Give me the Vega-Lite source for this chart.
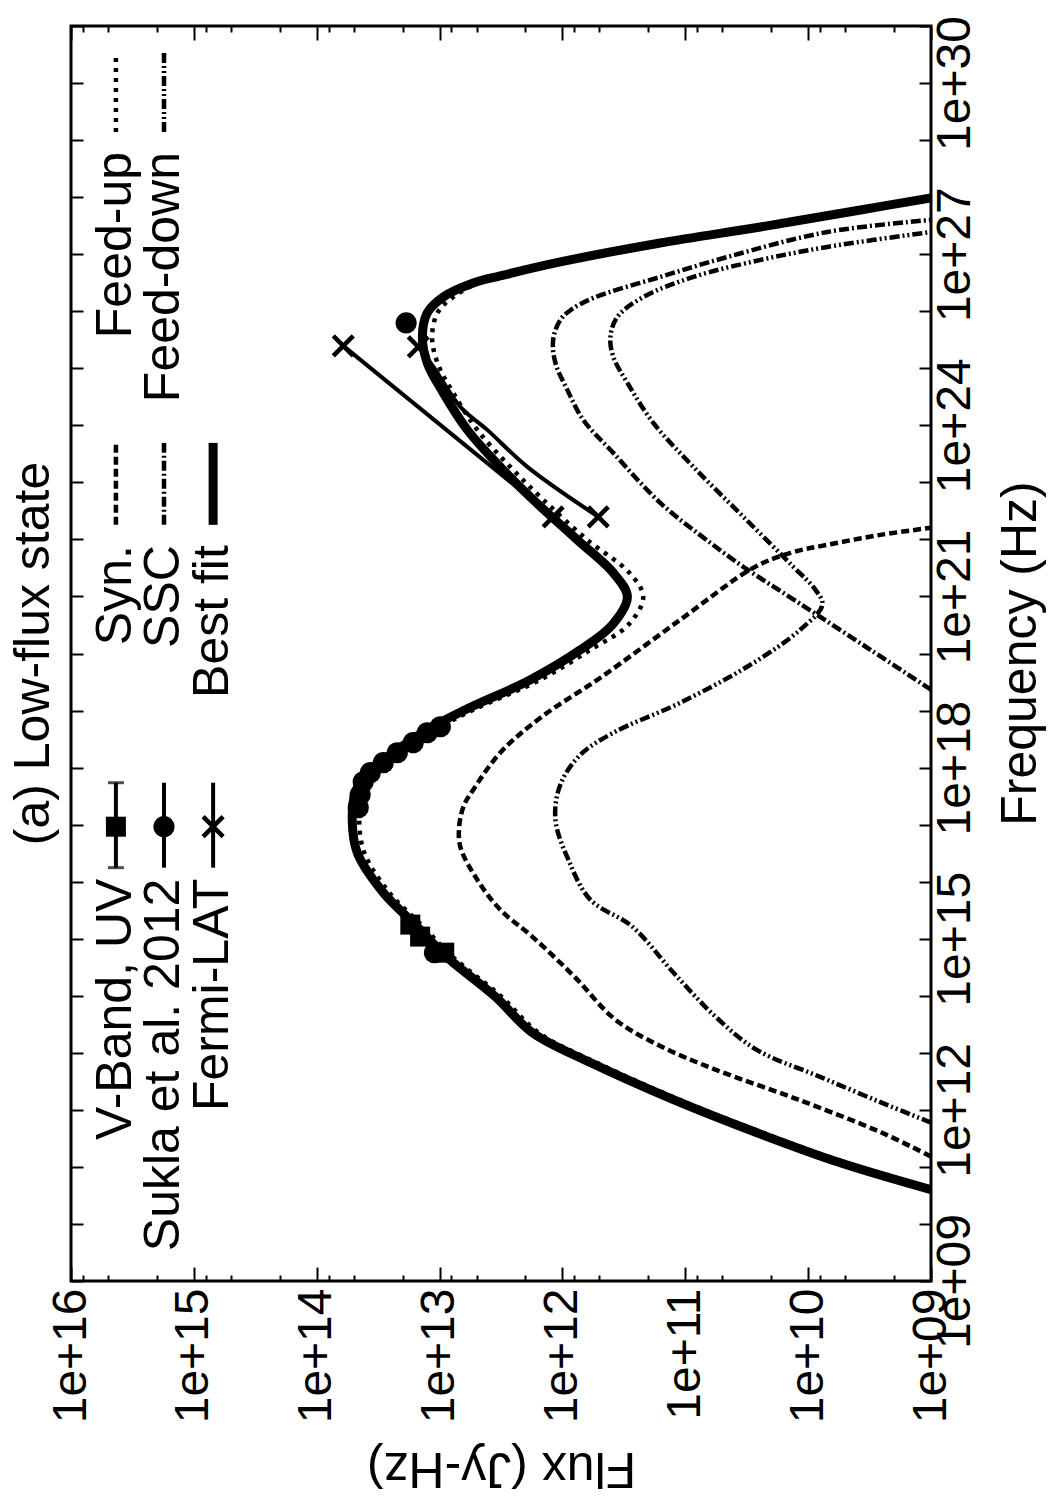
{
  "$schema": "https://vega.github.io/schema/vega-lite/v6.json",
  "width": 860,
  "height": 1255,
  "autosize": {"type": "none"},
  "padding": {"left": 71, "top": 26, "right": 117, "bottom": 219},
  "background": "white",
  "config": {
    "view": {"stroke": "black", "strokeWidth": 3},
    "font": "Liberation Sans"
  },
  "title": {
    "text": "(a) Low-flux state",
    "orient": "left",
    "anchor": "middle",
    "fontSize": 50,
    "font": "Liberation Sans",
    "fontWeight": "normal",
    "color": "black",
    "offset": -12
  },
  "datasets": {
    "curves": [
      {"s":"Syn.","p":"m","nu":1.52e11,"f":1.0e9},{"s":"Syn.","p":"m","nu":4.00e11,"f":2.53e9},{"s":"Syn.","p":"m","nu":1.51e12,"f":1.20e10},{"s":"Syn.","p":"m","nu":5.08e12,"f":5.69e10},{"s":"Syn.","p":"m","nu":1.29e13,"f":1.57e11},{"s":"Syn.","p":"m","nu":3.82e13,"f":3.71e11},{"s":"Syn.","p":"m","nu":2.17e14,"f":8.00e11},{"s":"Syn.","p":"m","nu":1.09e15,"f":1.76e12},{"s":"Syn.","p":"m","nu":3.24e15,"f":3.21e12},{"s":"Syn.","p":"m","nu":1.08e16,"f":4.93e12},{"s":"Syn.","p":"m","nu":4.10e16,"f":6.78e12},{"s":"Syn.","p":"m","nu":9.98e16,"f":6.90e12},{"s":"Syn.","p":"m","nu":2.23e17,"f":6.30e12},{"s":"Syn.","p":"m","nu":4.09e17,"f":5.32e12},{"s":"Syn.","p":"m","nu":1.82e18,"f":3.21e12},{"s":"Syn.","p":"m","nu":7.48e18,"f":1.51e12},{"s":"Syn.","p":"m","nu":3.76e19,"f":4.91e11},{"s":"Syn.","p":"m","nu":3.90e20,"f":1.10e11},{"s":"Syn.","p":"m","nu":3.18e21,"f":2.79e10},{"s":"Syn.","p":"m","nu":5.82e21,"f":1.39e10},{"s":"Syn.","p":"m","nu":8.04e21,"f":6.97e9},{"s":"Syn.","p":"m","nu":1.20e22,"f":2.58e9},{"s":"Syn.","p":"m","nu":1.60e22,"f":1.0e9},
      {"s":"Syn.","p":"k","nu":4.92e23,"f":4.31e15},{"s":"Syn.","p":"k","nu":1.80e22,"f":4.31e15},

      {"s":"SSC","p":"m","nu":2.32e19,"f":1.0e9},{"s":"SSC","p":"m","nu":1.16e20,"f":3.11e9},{"s":"SSC","p":"m","nu":7.43e20,"f":1.16e10},{"s":"SSC","p":"m","nu":3.31e21,"f":3.37e10},{"s":"SSC","p":"m","nu":8.71e21,"f":6.25e10},{"s":"SSC","p":"m","nu":4.38e22,"f":1.60e11},{"s":"SSC","p":"m","nu":3.43e23,"f":3.93e11},{"s":"SSC","p":"m","nu":1.24e24,"f":6.76e11},{"s":"SSC","p":"m","nu":4.18e24,"f":9.12e11},{"s":"SSC","p":"m","nu":1.24e25,"f":1.14e12},{"s":"SSC","p":"m","nu":3.14e25,"f":1.19e12},{"s":"SSC","p":"m","nu":7.05e25,"f":1.04e12},{"s":"SSC","p":"m","nu":1.05e26,"f":8.55e11},{"s":"SSC","p":"m","nu":1.71e26,"f":5.60e11},{"s":"SSC","p":"m","nu":3.99e26,"f":1.60e11},{"s":"SSC","p":"m","nu":8.93e26,"f":4.54e10},{"s":"SSC","p":"m","nu":2.45e27,"f":6.97e9},{"s":"SSC","p":"m","nu":3.98e27,"f":1.0e9},
      {"s":"SSC","p":"k","nu":4.92e23,"f":1.75e15},{"s":"SSC","p":"k","nu":1.80e22,"f":1.75e15},

      {"s":"Feed-down","p":"m","nu":5.98e11,"f":1.0e9},{"s":"Feed-down","p":"m","nu":1.34e12,"f":2.53e9},{"s":"Feed-down","p":"m","nu":3.83e12,"f":8.09e9},{"s":"Feed-down","p":"m","nu":1.14e13,"f":2.64e10},{"s":"Feed-down","p":"m","nu":4.32e13,"f":5.69e10},{"s":"Feed-down","p":"m","nu":2.55e14,"f":1.25e11},{"s":"Feed-down","p":"m","nu":1.63e15,"f":2.70e11},{"s":"Feed-down","p":"m","nu":4.84e15,"f":5.93e11},{"s":"Feed-down","p":"m","nu":2.43e16,"f":8.95e11},{"s":"Feed-down","p":"m","nu":1.22e17,"f":1.14e12},{"s":"Feed-down","p":"m","nu":5.01e17,"f":1.04e12},{"s":"Feed-down","p":"m","nu":1.68e18,"f":7.14e11},{"s":"Feed-down","p":"m","nu":4.08e18,"f":3.85e11},{"s":"Feed-down","p":"m","nu":1.37e19,"f":1.10e11},{"s":"Feed-down","p":"m","nu":6.35e19,"f":2.95e10},{"s":"Feed-down","p":"m","nu":2.61e20,"f":1.16e10},{"s":"Feed-down","p":"m","nu":7.14e20,"f":7.66e9},{"s":"Feed-down","p":"m","nu":1.31e21,"f":8.73e9},{"s":"Feed-down","p":"m","nu":3.31e21,"f":1.32e10},{"s":"Feed-down","p":"m","nu":2.49e22,"f":3.37e10},{"s":"Feed-down","p":"m","nu":1.87e23,"f":8.59e10},{"s":"Feed-down","p":"m","nu":1.10e24,"f":1.82e11},{"s":"Feed-down","p":"m","nu":5.55e24,"f":2.96e11},{"s":"Feed-down","p":"m","nu":1.58e25,"f":3.85e11},{"s":"Feed-down","p":"m","nu":3.55e25,"f":4.07e11},{"s":"Feed-down","p":"m","nu":7.94e25,"f":3.57e11},{"s":"Feed-down","p":"m","nu":1.78e26,"f":2.19e11},{"s":"Feed-down","p":"m","nu":3.99e26,"f":8.59e10},{"s":"Feed-down","p":"m","nu":7.93e26,"f":2.44e10},{"s":"Feed-down","p":"m","nu":1.34e27,"f":6.97e9},{"s":"Feed-down","p":"m","nu":2.45e27,"f":1.0e9},
      {"s":"Feed-down","p":"k","nu":3.36e30,"f":1.75e15},{"s":"Feed-down","p":"k","nu":1.39e29,"f":1.75e15},

      {"s":"Feed-up","p":"m","nu":3.98e10,"f":8.93e8},{"s":"Feed-up","p":"m","nu":1.19e11,"f":4.97e9},{"s":"Feed-up","p":"m","nu":4.00e11,"f":2.36e10},{"s":"Feed-up","p":"m","nu":1.51e12,"f":1.12e11},{"s":"Feed-up","p":"m","nu":6.75e12,"f":5.30e11},{"s":"Feed-up","p":"m","nu":2.26e13,"f":1.57e12},{"s":"Feed-up","p":"m","nu":9.66e13,"f":3.14e12},{"s":"Feed-up","p":"m","nu":4.85e14,"f":7.87e12},{"s":"Feed-up","p":"m","nu":1.63e15,"f":1.36e13},{"s":"Feed-up","p":"m","nu":6.41e15,"f":2.56e13},{"s":"Feed-up","p":"m","nu":3.22e16,"f":4.10e13},{"s":"Feed-up","p":"m","nu":1.22e17,"f":4.51e13},{"s":"Feed-up","p":"m","nu":3.63e17,"f":4.26e13},{"s":"Feed-up","p":"m","nu":8.13e17,"f":3.40e13},{"s":"Feed-up","p":"m","nu":1.82e18,"f":2.05e13},{"s":"Feed-up","p":"m","nu":4.61e18,"f":1.08e13},{"s":"Feed-up","p":"m","nu":1.03e19,"f":5.32e12},{"s":"Feed-up","p":"m","nu":3.47e19,"f":1.51e12},{"s":"Feed-up","p":"m","nu":1.16e20,"f":5.93e11},{"s":"Feed-up","p":"m","nu":3.18e20,"f":2.91e11},{"s":"Feed-up","p":"m","nu":9.86e20,"f":2.20e11},{"s":"Feed-up","p":"m","nu":2.59e21,"f":2.85e11},{"s":"Feed-up","p":"m","nu":9.84e21,"f":6.28e11},{"s":"Feed-up","p":"m","nu":4.94e22,"f":1.43e12},{"s":"Feed-up","p":"m","nu":1.87e23,"f":2.66e12},{"s":"Feed-up","p":"m","nu":8.32e23,"f":4.93e12},{"s":"Feed-up","p":"m","nu":3.71e24,"f":7.74e12},{"s":"Feed-up","p":"m","nu":1.24e25,"f":1.04e13},{"s":"Feed-up","p":"m","nu":3.55e25,"f":1.15e13},{"s":"Feed-up","p":"m","nu":9.33e25,"f":1.04e13},{"s":"Feed-up","p":"m","nu":1.78e26,"f":7.74e12},{"s":"Feed-up","p":"m","nu":3.13e26,"f":4.84e12},{"s":"Feed-up","p":"m","nu":4.16e26,"f":2.92e12},{"s":"Feed-up","p":"m","nu":7.31e26,"f":9.46e11},{"s":"Feed-up","p":"m","nu":1.57e27,"f":1.51e11},{"s":"Feed-up","p":"m","nu":3.00e27,"f":2.31e10},{"s":"Feed-up","p":"m","nu":5.96e27,"f":3.55e9},{"s":"Feed-up","p":"m","nu":9.68e27,"f":9.46e8},
      {"s":"Feed-up","p":"k","nu":3.36e30,"f":4.31e15},{"s":"Feed-up","p":"k","nu":1.39e29,"f":4.31e15},

      {"s":"Best fit","p":"m","nu":3.98e10,"f":1.0e9},{"s":"Best fit","p":"m","nu":1.19e11,"f":5.56e9},{"s":"Best fit","p":"m","nu":4.00e11,"f":2.64e10},{"s":"Best fit","p":"m","nu":1.51e12,"f":1.25e11},{"s":"Best fit","p":"m","nu":6.75e12,"f":5.93e11},{"s":"Best fit","p":"m","nu":2.26e13,"f":1.76e12},{"s":"Best fit","p":"m","nu":9.66e13,"f":3.52e12},{"s":"Best fit","p":"m","nu":4.85e14,"f":8.81e12},{"s":"Best fit","p":"m","nu":1.63e15,"f":1.52e13},{"s":"Best fit","p":"m","nu":6.41e15,"f":2.87e13},{"s":"Best fit","p":"m","nu":3.22e16,"f":4.68e13},{"s":"Best fit","p":"m","nu":1.22e17,"f":5.14e13},{"s":"Best fit","p":"m","nu":3.63e17,"f":4.85e13},{"s":"Best fit","p":"m","nu":8.13e17,"f":3.88e13},{"s":"Best fit","p":"m","nu":1.82e18,"f":2.38e13},{"s":"Best fit","p":"m","nu":4.61e18,"f":1.26e13},{"s":"Best fit","p":"m","nu":1.03e19,"f":6.18e12},{"s":"Best fit","p":"m","nu":3.47e19,"f":1.82e12},{"s":"Best fit","p":"m","nu":1.16e20,"f":7.14e11},{"s":"Best fit","p":"m","nu":3.18e20,"f":3.93e11},{"s":"Best fit","p":"m","nu":9.86e20,"f":2.96e11},{"s":"Best fit","p":"m","nu":2.59e21,"f":3.85e11},{"s":"Best fit","p":"m","nu":9.84e21,"f":7.57e11},{"s":"Best fit","p":"m","nu":4.94e22,"f":1.73e12},{"s":"Best fit","p":"m","nu":1.87e23,"f":3.21e12},{"s":"Best fit","p":"m","nu":8.32e23,"f":5.94e12},{"s":"Best fit","p":"m","nu":3.71e24,"f":9.33e12},{"s":"Best fit","p":"m","nu":1.24e25,"f":1.26e13},{"s":"Best fit","p":"m","nu":3.55e25,"f":1.38e13},{"s":"Best fit","p":"m","nu":9.33e25,"f":1.26e13},{"s":"Best fit","p":"m","nu":1.78e26,"f":9.33e12},{"s":"Best fit","p":"m","nu":3.13e26,"f":5.32e12},{"s":"Best fit","p":"m","nu":4.16e26,"f":3.21e12},{"s":"Best fit","p":"m","nu":7.31e26,"f":1.04e12},{"s":"Best fit","p":"m","nu":1.57e27,"f":1.60e11},{"s":"Best fit","p":"m","nu":3.00e27,"f":2.44e10},{"s":"Best fit","p":"m","nu":5.96e27,"f":3.75e9},{"s":"Best fit","p":"m","nu":9.68e27,"f":1.0e9},
      {"s":"Best fit","p":"k","nu":4.92e23,"f":6.97e14},{"s":"Best fit","p":"k","nu":1.80e22,"f":6.97e14},

      {"s":"Fermi-LAT","p":"f1","nu":2.47e25,"f":6.08e13},{"s":"Fermi-LAT","p":"f1","nu":2.49e22,"f":1.19e12},
      {"s":"Fermi-LAT","p":"f2","nu":2.37e25,"f":1.49e13},{"s":"Fermi-LAT","p":"f2","nu":1.06e25,"f":1.12e13},{"s":"Fermi-LAT","p":"f2","nu":2.10e24,"f":6.78e12},{"s":"Fermi-LAT","p":"f2","nu":8.32e23,"f":4.09e12},{"s":"Fermi-LAT","p":"f2","nu":1.87e23,"f":1.93e12},{"s":"Fermi-LAT","p":"f2","nu":2.49e22,"f":5.11e11},
      {"s":"Fermi-LAT","p":"fk","nu":5.43e17,"f":6.97e14},{"s":"Fermi-LAT","p":"fk","nu":1.76e16,"f":6.97e14},
      {"s":"Sukla et al. 2012","p":"sk","nu":5.43e17,"f":1.75e15},{"s":"Sukla et al. 2012","p":"sk","nu":1.76e16,"f":1.75e15},
      {"s":"V-Band, UV","p":"vk","nu":5.43e17,"f":4.31e15},{"s":"V-Band, UV","p":"vk","nu":1.76e16,"f":4.31e15}
    ],
    "caps": [
      {"s":"V-Band, UV","nu":5.43e17,"f":4.31e15},
      {"s":"V-Band, UV","nu":1.76e16,"f":4.31e15}
    ],
    "points": [
      {"s":"V-Band, UV","nu":1.77e15,"f":1.73e13},{"s":"V-Band, UV","nu":1.09e15,"f":1.44e13},{"s":"V-Band, UV","nu":5.70e14,"f":9.16e12},{"s":"V-Band, UV","nu":9.20e16,"f":4.31e15},
      {"s":"Sukla et al. 2012","nu":5.70e14,"f":1.10e13},{"s":"Sukla et al. 2012","nu":5.20e18,"f":9.86e12},{"s":"Sukla et al. 2012","nu":4.08e18,"f":1.26e13},{"s":"Sukla et al. 2012","nu":2.73e18,"f":1.64e13},{"s":"Sukla et al. 2012","nu":1.82e18,"f":2.21e13},{"s":"Sukla et al. 2012","nu":1.22e18,"f":2.87e13},{"s":"Sukla et al. 2012","nu":8.13e17,"f":3.66e13},{"s":"Sukla et al. 2012","nu":5.65e17,"f":4.18e13},{"s":"Sukla et al. 2012","nu":3.35e17,"f":4.43e13},{"s":"Sukla et al. 2012","nu":1.98e17,"f":4.59e13},{"s":"Sukla et al. 2012","nu":6.24e25,"f":1.87e13},{"s":"Sukla et al. 2012","nu":9.20e16,"f":1.75e15},
      {"s":"Fermi-LAT","nu":2.47e25,"f":6.08e13},{"s":"Fermi-LAT","nu":2.37e25,"f":1.49e13},{"s":"Fermi-LAT","nu":2.49e22,"f":1.19e12},{"s":"Fermi-LAT","nu":2.49e22,"f":5.11e11},{"s":"Fermi-LAT","nu":9.20e16,"f":6.97e14}
    ],
    "labels": [
      {"t":"V-Band, UV","nu":1.13e16,"f":4.31e15},
      {"t":"Sukla et al. 2012","nu":1.13e16,"f":1.75e15},
      {"t":"Fermi-LAT","nu":1.13e16,"f":6.97e14},
      {"t":"Syn.","nu":7.94e21,"f":4.31e15},
      {"t":"SSC","nu":7.94e21,"f":1.75e15},
      {"t":"Best fit","nu":7.94e21,"f":6.97e14},
      {"t":"Feed-up","nu":6.19e28,"f":4.31e15},
      {"t":"Feed-down","nu":6.19e28,"f":1.75e15}
    ]
  },
  "encoding": {
    "x": {"field": "f", "type": "quantitative", "scale": {"type": "log", "domain": [1e9, 1e16], "reverse": true, "nice": false}, "axis": null},
    "y": {"field": "nu", "type": "quantitative", "scale": {"type": "log", "domain": [1e9, 1e31], "nice": false}, "axis": null}
  },
  "layer": [
    {
      "data": {"name": "curves"},
      "transform": [{"filter": "datum.s == 'Syn.'"}],
      "mark": {"type": "line", "interpolate": "catmull-rom", "color": "black", "strokeWidth": 4.5, "strokeDash": [8, 4], "strokeCap": "butt", "clip": true},
      "encoding": {
        "x": {
          "field": "f", "type": "quantitative",
          "scale": {"type": "log", "domain": [1e9, 1e16], "reverse": true, "nice": false},
          "axis": {
            "orient": "bottom",
            "values": [1e9,2e9,5e9,8e9,1e10,2e10,5e10,8e10,1e11,2e11,5e11,8e11,1e12,2e12,5e12,8e12,1e13,2e13,5e13,8e13,1e14,2e14,5e14,8e14,1e15,2e15,5e15,8e15,1e16],
            "labelExpr": "abs(log(datum.value)/LN10 - round(log(datum.value)/LN10)) < 0.001 ? ('1e+' + (round(log(datum.value)/LN10) < 10 ? '0' : '') + round(log(datum.value)/LN10)) : ''",
            "labelAngle": 270, "labelAlign": "right", "labelBaseline": "middle",
            "labelFont": "Liberation Sans", "labelFontSize": 48, "labelColor": "black",
            "labelPadding": 21, "labelOverlap": false, "labelFlush": false, "labelBound": false,
            "tickSize": {"condition": {"test": "abs(log(datum.value)/LN10 - round(log(datum.value)/LN10)) < 0.001", "value": -14}, "value": -6},
            "tickWidth": 2, "tickColor": "black",
            "domain": false, "grid": false,
            "title": "Flux (Jy-Hz)", "titleAngle": 180, "titleX": 430, "titleY": 171,
            "titleAlign": "center", "titleBaseline": "alphabetic",
            "titleFont": "Liberation Sans", "titleFontSize": 50, "titleFontWeight": "normal", "titleColor": "black"
          }
        },
        "y": {
          "field": "nu", "type": "quantitative",
          "scale": {"type": "log", "domain": [1e9, 1e31], "nice": false},
          "axis": {
            "orient": "right",
            "values": [1e9,1e10,1e11,1e12,1e13,1e14,1e15,1e16,1e17,1e18,1e19,1e20,1e21,1e22,1e23,1e24,1e25,1e26,1e27,1e28,1e29,1e30,1e31],
            "labelExpr": "round(log(datum.value)/LN10) % 3 == 0 ? ('1e+' + (round(log(datum.value)/LN10) < 10 ? '0' : '') + round(log(datum.value)/LN10)) : ''",
            "labelAngle": 270, "labelAlign": "center", "labelBaseline": "top",
            "labelFont": "Liberation Sans", "labelFontSize": 48, "labelColor": "black",
            "labelPadding": 12, "labelOverlap": false, "labelFlush": false, "labelBound": false,
            "tickSize": -12, "tickWidth": 2, "tickColor": "black",
            "domain": false, "grid": false,
            "title": "Frequency (Hz)", "titleAngle": 270, "titleX": 104, "titleY": 627,
            "titleAlign": "center", "titleBaseline": "alphabetic",
            "titleFont": "Liberation Sans", "titleFontSize": 50, "titleFontWeight": "normal", "titleColor": "black"
          }
        },
        "detail": {"field": "p"},
        "order": {"field": "nu", "type": "quantitative"}
      }
    },
    {
      "data": {"name": "curves"},
      "transform": [{"filter": "datum.s == 'SSC'"}],
      "mark": {"type": "line", "interpolate": "catmull-rom", "color": "black", "strokeWidth": 4.5, "strokeDash": [10, 3, 2, 3], "strokeCap": "butt", "clip": true},
      "encoding": {
        "x": {
          "field": "f", "type": "quantitative",
          "scale": {"type": "log", "domain": [1e9, 1e16], "reverse": true, "nice": false},
          "axis": {
            "orient": "top",
            "values": [1e9,2e9,5e9,8e9,1e10,2e10,5e10,8e10,1e11,2e11,5e11,8e11,1e12,2e12,5e12,8e12,1e13,2e13,5e13,8e13,1e14,2e14,5e14,8e14,1e15,2e15,5e15,8e15,1e16],
            "labels": false,
            "tickSize": {"condition": {"test": "abs(log(datum.value)/LN10 - round(log(datum.value)/LN10)) < 0.001", "value": -14}, "value": -6},
            "tickWidth": 2, "tickColor": "black",
            "domain": false, "grid": false, "title": null
          }
        },
        "y": {
          "field": "nu", "type": "quantitative",
          "scale": {"type": "log", "domain": [1e9, 1e31], "nice": false},
          "axis": {
            "orient": "left",
            "values": [1e9,1e10,1e11,1e12,1e13,1e14,1e15,1e16,1e17,1e18,1e19,1e20,1e21,1e22,1e23,1e24,1e25,1e26,1e27,1e28,1e29,1e30,1e31],
            "labels": false,
            "tickSize": -12, "tickWidth": 2, "tickColor": "black",
            "domain": false, "grid": false, "title": null
          }
        },
        "detail": {"field": "p"},
        "order": {"field": "nu", "type": "quantitative"}
      }
    },
    {
      "data": {"name": "curves"},
      "transform": [{"filter": "datum.s == 'Feed-down'"}],
      "mark": {"type": "line", "interpolate": "catmull-rom", "color": "black", "strokeWidth": 4.5, "strokeDash": [10, 3, 2, 3, 2, 3], "strokeCap": "butt", "clip": true},
      "encoding": {"detail": {"field": "p"}, "order": {"field": "nu", "type": "quantitative"}}
    },
    {
      "data": {"name": "curves"},
      "transform": [{"filter": "datum.s == 'Feed-up'"}],
      "mark": {"type": "line", "interpolate": "catmull-rom", "color": "black", "strokeWidth": 4.5, "strokeDash": [4, 6], "strokeCap": "butt", "clip": true},
      "encoding": {"detail": {"field": "p"}, "order": {"field": "nu", "type": "quantitative"}}
    },
    {
      "data": {"name": "curves"},
      "transform": [{"filter": "datum.s == 'Best fit'"}],
      "mark": {"type": "line", "interpolate": "catmull-rom", "color": "black", "strokeWidth": 9, "strokeJoin": "round", "clip": true},
      "encoding": {"detail": {"field": "p"}, "order": {"field": "nu", "type": "quantitative"}}
    },
    {
      "data": {"name": "curves"},
      "transform": [{"filter": "datum.s == 'Fermi-LAT' || datum.s == 'Sukla et al. 2012' || datum.s == 'V-Band, UV'"}],
      "mark": {"type": "line", "interpolate": "catmull-rom", "color": "black", "strokeWidth": 4, "clip": true},
      "encoding": {"detail": {"field": "p"}, "order": {"field": "nu", "type": "quantitative"}}
    },
    {
      "data": {"name": "caps"},
      "mark": {"type": "tick", "orient": "horizontal", "size": 16, "thickness": 3, "color": "black"}
    },
    {
      "data": {"name": "points"},
      "transform": [{"filter": "datum.s == 'V-Band, UV'"}],
      "mark": {"type": "point", "shape": "square", "filled": true, "color": "black", "size": 400, "opacity": 1}
    },
    {
      "data": {"name": "points"},
      "transform": [{"filter": "datum.s == 'Sukla et al. 2012'"}],
      "mark": {"type": "point", "shape": "circle", "filled": true, "color": "black", "size": 450, "opacity": 1}
    },
    {
      "data": {"name": "points"},
      "transform": [{"filter": "datum.s == 'Fermi-LAT'"}],
      "mark": {"type": "point", "shape": "M-1,-1L1,1M-1,1L1,-1", "filled": false, "color": "black", "strokeWidth": 4.5, "size": 400, "opacity": 1}
    },
    {
      "data": {"name": "labels"},
      "mark": {"type": "text", "angle": 270, "align": "right", "baseline": "middle", "fontSize": 50, "font": "Liberation Sans", "color": "black"},
      "encoding": {"text": {"field": "t"}}
    }
  ],
  "resolve": {"axis": {"x": "independent", "y": "independent"}}
}
